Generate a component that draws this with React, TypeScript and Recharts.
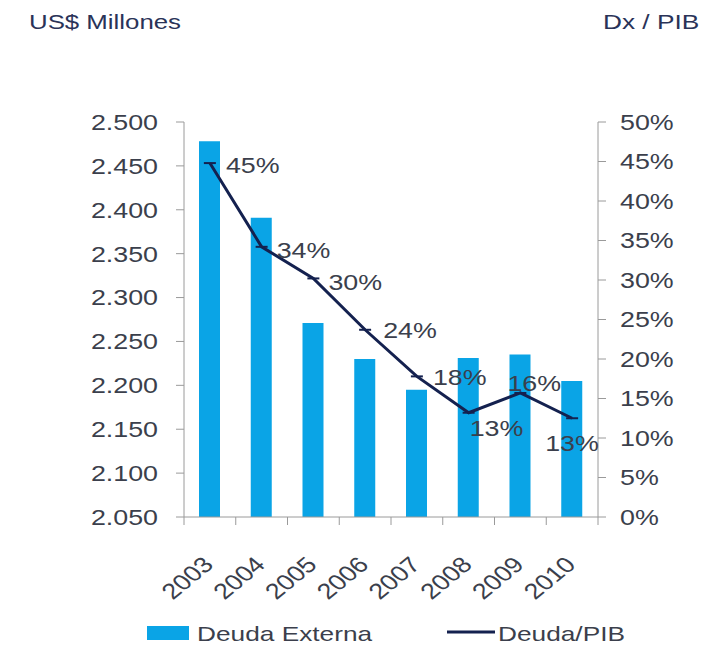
import React from 'react';
import { ComposedChart, Bar, Line, XAxis, YAxis, LabelList } from 'recharts';

const years = ['2003', '2004', '2005', '2006', '2007', '2008', '2009', '2010'];
// US$ millones
const deudaExterna = [2478, 2391, 2271, 2230, 2195, 2231, 2235, 2205];
// deuda externa / PIB, %
const deudaPib = [44.8, 34.2, 30.2, 23.7, 17.8, 13.2, 15.7, 12.5];
const leftTicks = [2050, 2100, 2150, 2200, 2250, 2300, 2350, 2400, 2450, 2500];
const rightTicks = [0, 5, 10, 15, 20, 25, 30, 35, 40, 45, 50];

// where each % label sits relative to its point
const labelOffsets = [
  [16, 2], [15, 3], [15, 4], [18, 0], [16, 1], [1, 15], [-13, -10], [-27, 25],
];

const BAR_COLOR = '#0aa4e6';
const LINE_COLOR = '#14214f';
const AXIS_COLOR = '#9a9a9a';
const TEXT_COLOR = '#3b3f4c';
const FONT = '"Liberation Sans", Arial, sans-serif';
const STRETCH = 1.22;

const W = 709;
const H = 646;
const LEFT_W = 184;
const RIGHT_W = 111;
const BAND = (W - LEFT_W - RIGHT_W) / years.length;

const data = years.map((year, i) => ({ year, deuda: deudaExterna[i], ratio: deudaPib[i] }));

const fmtMillones = (v: number) => `${Math.floor(v / 1000)}.${String(v % 1000).padStart(3, '0')}`;

function LeftTick({ x, y, payload }: any) {
  return (
    <text transform={`translate(${x},${y}) scale(${STRETCH},1)`} dy="0.36em" textAnchor="end"
      fontSize={22} fontFamily={FONT} fill={TEXT_COLOR}>
      {fmtMillones(payload.value)}
    </text>
  );
}

function RightTick({ x, y, payload }: any) {
  return (
    <text transform={`translate(${x},${y}) scale(${STRETCH},1)`} dy="0.36em" textAnchor="start"
      fontSize={22} fontFamily={FONT} fill={TEXT_COLOR}>
      {`${payload.value}%`}
    </text>
  );
}

function YearTick({ x, y, payload, index }: any) {
  const half = BAND / 2;
  return (
    <g>
      <line x1={x - half} x2={x - half} y1={y - 8} y2={y} stroke={AXIS_COLOR} />
      {index === years.length - 1 && (
        <line x1={x + half} x2={x + half} y1={y - 8} y2={y} stroke={AXIS_COLOR} />
      )}
      <text transform={`translate(${x + 5},${y + 41}) scale(${STRETCH},1) rotate(-45)`} textAnchor="end"
        fontSize={22} fontFamily={FONT} fill={TEXT_COLOR}>
        {payload.value}
      </text>
    </g>
  );
}

function DashDot({ cx, cy }: any) {
  if (cx == null || cy == null) return null;
  return <line x1={cx - 6} x2={cx + 6} y1={cy} y2={cy} stroke={LINE_COLOR} strokeWidth={2} />;
}

function RatioLabel({ x, y, value, index }: any) {
  const [dx, dy] = labelOffsets[index];
  return (
    <text transform={`translate(${x + dx},${y + dy}) scale(${STRETCH},1)`} dy="0.36em"
      fontSize={22} fontFamily={FONT} fill={TEXT_COLOR}>
      {`${Math.round(value)}%`}
    </text>
  );
}

export default function App() {
  return (
    <div style={{ position: 'absolute', left: 0, top: 0, width: W, height: H, background: '#fff' }}>
      <ComposedChart width={W} height={H} data={data} margin={{ top: 122, right: 0, bottom: 0, left: 0 }}>
        <XAxis dataKey="year" height={129} interval={0} tickLine={false} tickSize={8} tickMargin={0}
          axisLine={{ stroke: AXIS_COLOR }} tick={<YearTick />} />
        <YAxis yAxisId="left" width={LEFT_W} domain={[2050, 2500]} ticks={leftTicks} tickSize={8}
          tickMargin={18} axisLine={{ stroke: AXIS_COLOR }} tickLine={{ stroke: AXIS_COLOR }}
          tick={<LeftTick />} allowDataOverflow />
        <YAxis yAxisId="right" orientation="right" width={RIGHT_W} domain={[0, 50]} ticks={rightTicks}
          tickSize={8} tickMargin={14} axisLine={{ stroke: AXIS_COLOR }} tickLine={{ stroke: AXIS_COLOR }}
          tick={<RightTick />} />
        <Bar yAxisId="left" dataKey="deuda" fill={BAR_COLOR} barSize={21} isAnimationActive={false} />
        <Line yAxisId="right" dataKey="ratio" stroke={LINE_COLOR} strokeWidth={3} dot={<DashDot />}
          activeDot={false} isAnimationActive={false}>
          <LabelList dataKey="ratio" content={<RatioLabel />} />
        </Line>
      </ComposedChart>
      <svg width={W} height={H} style={{ position: 'absolute', left: 0, top: 0, pointerEvents: 'none' }}>
        <text transform={`translate(29,29) scale(1.23,1)`} fontSize={21} fontFamily={FONT} fill="#2a3358">
          US$ Millones
        </text>
        <text transform={`translate(603,29) scale(1.25,1)`} fontSize={21} fontFamily={FONT} fill="#2a3358">
          Dx / PIB
        </text>
        <rect x={147} y={626} width={42} height={14} fill={BAR_COLOR} />
        <text transform={`translate(197,641) scale(1.25,1)`} fontSize={21} fontFamily={FONT} fill={TEXT_COLOR}>
          Deuda Externa
        </text>
        <line x1={447} x2={495} y1={632} y2={632} stroke={LINE_COLOR} strokeWidth={3} />
        <text transform={`translate(498,641) scale(1.25,1)`} fontSize={21} fontFamily={FONT} fill={TEXT_COLOR}>
          Deuda/PIB
        </text>
      </svg>
    </div>
  );
}
